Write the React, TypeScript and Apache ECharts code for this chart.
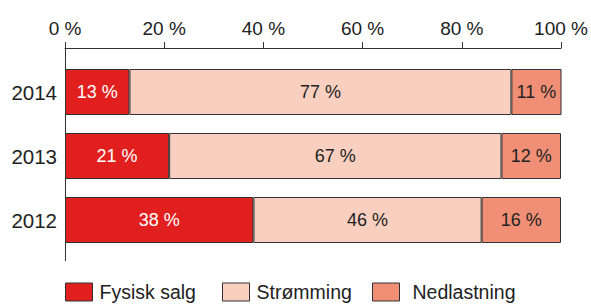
import React, { useEffect, useRef } from "react";
import * as echarts from "echarts";

const years = ["2012", "2013", "2014"];
const seriesNames = ["Fysisk salg", "Strømming", "Nedlastning"];
const fysiskSalg = [38, 21, 13];
const stromming = [46, 67, 77];
const nedlastning = [16, 12, 11];
const xTicks = [0, 20, 40, 60, 80, 100];

const colors = ["#e21f1f", "#f9d0c0", "#f08f76"];
const labelColors = ["#ffffff", "#222222", "#222222"];
const FONT = "'Liberation Sans', Arial, sans-serif";

export default function App() {
  const ref = useRef<HTMLDivElement>(null);
  useEffect(() => {
    document.body.style.margin = "0";
    if (!ref.current) return;
    const chart = echarts.init(ref.current, null, { renderer: "svg" });
    const gridLeft = 65;
    const gridTop = 60;
    const gridBottom = 53;
    const values = [fysiskSalg, stromming, nedlastning];
    const legendLefts = [65, 222, 372];
    const legendPads = [2, 2, 8];
    chart.setOption({
      animation: false,
      textStyle: { fontFamily: FONT },
      grid: { left: gridLeft, right: 30, top: gridTop, bottom: gridBottom },
      xAxis: {
        type: "value",
        position: "top",
        offset: 12,
        min: xTicks[0],
        max: xTicks[xTicks.length - 1],
        interval: 20,
        axisLine: { show: true, lineStyle: { color: "#333", width: 1 } },
        axisTick: { show: true, length: 6, lineStyle: { color: "#333" } },
        splitLine: { show: false },
        axisLabel: {
          formatter: "{value} %",
          fontSize: 19,
          color: "#222",
          margin: 10,
          fontFamily: FONT,
        },
      },
      yAxis: {
        type: "category",
        data: years,
        axisLine: { show: false },
        axisTick: { show: false },
        axisLabel: { fontSize: 20.5, color: "#222", margin: 8, fontFamily: FONT },
      },
      legend: seriesNames.map((n, i) => ({
        data: [n],
        left: legendLefts[i],
        top: 282,
        padding: 0,
        itemWidth: 27,
        itemHeight: 18,
        icon: "rect",
        itemStyle: { borderColor: "#333", borderWidth: 1 },
        textStyle: {
          fontSize: 19.5,
          color: "#222",
          fontFamily: FONT,
          padding: [0, 0, 0, legendPads[i]],
        },
        selectedMode: false,
      })),
      graphic: [
        {
          type: "line",
          shape: { x1: gridLeft + 0.5, y1: 47.5, x2: gridLeft + 0.5, y2: 261 },
          style: { stroke: "#333", lineWidth: 1 },
          silent: true,
        },
      ],
      series: seriesNames.map((n, i) => ({
        name: n,
        type: "bar",
        stack: "total",
        barWidth: 46,
        data: values[i],
        itemStyle: { color: colors[i], borderColor: "#333", borderWidth: 1 },
        label: {
          show: true,
          position: "inside",
          formatter: "{c} %",
          fontSize: 18,
          color: labelColors[i],
          fontFamily: FONT,
        },
      })),
    });
    return () => chart.dispose();
  }, []);
  return <div ref={ref} style={{ width: 591, height: 305 }} />;
}
